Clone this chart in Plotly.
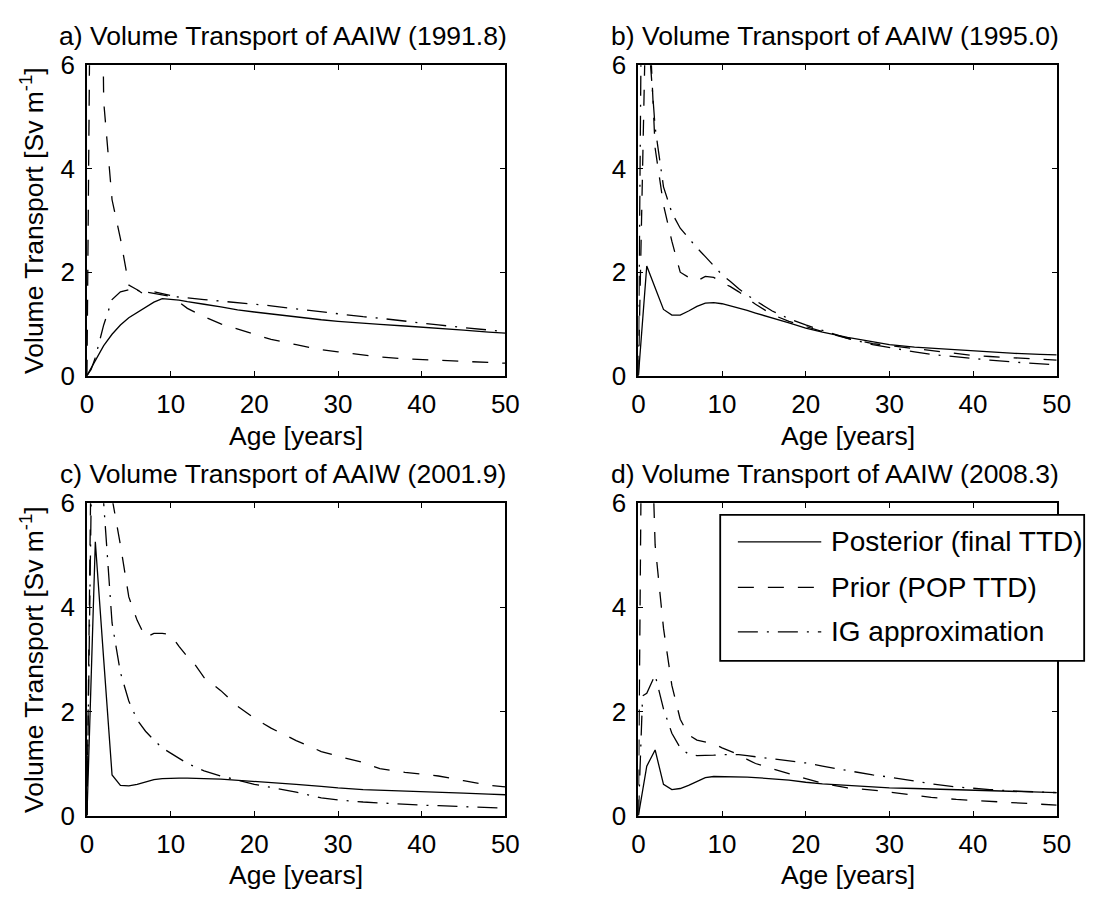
import plotly.graph_objects as go

# ---------------- data ----------------
age = [0, 0.5, 1, 2, 3, 4, 5, 6, 7, 8, 9, 10, 11, 12, 13, 14, 16, 18, 20, 22,
       25, 28, 30, 33, 35, 38, 40, 42, 45, 48, 50]

post_a = [0, 0.15, 0.3, 0.58, 0.8, 0.98, 1.12, 1.22, 1.32, 1.42, 1.49, 1.48, 1.46, 1.43, 1.41, 1.38,
          1.33, 1.27, 1.23, 1.19, 1.14, 1.08, 1.05, 1.01, 0.99, 0.96, 0.94, 0.91, 0.88, 0.84, 0.82]
prior_a = [0, 10, 20, 5.3, 3.4, 2.65, 1.75, 1.66, 1.55, 1.62, 1.58, 1.55, 1.42, 1.3, 1.22, 1.14,
           1.0, 0.9, 0.8, 0.7, 0.6, 0.5, 0.46, 0.4, 0.36, 0.325, 0.31, 0.3, 0.28, 0.255, 0.24]
ig_a = [0, 0.12, 0.35, 0.98, 1.47, 1.62, 1.66, 1.65, 1.62, 1.59, 1.56, 1.53, 1.52, 1.5, 1.49, 1.47,
        1.44, 1.41, 1.38, 1.35, 1.29, 1.23, 1.2, 1.14, 1.11, 1.05, 1.02, 0.98, 0.93, 0.88, 0.85]

post_b = [0, 1.06, 2.12, 1.7, 1.28, 1.17, 1.17, 1.25, 1.34, 1.4, 1.41, 1.39, 1.35, 1.3, 1.26, 1.21,
          1.12, 1.02, 0.92, 0.84, 0.74, 0.65, 0.6, 0.55, 0.53, 0.49, 0.47, 0.45, 0.43, 0.41, 0.40]
prior_b = [0, 4, 8, 4.4, 3.3, 2.6, 2.0, 1.9, 1.83, 1.92, 1.9, 1.8, 1.72, 1.62, 1.5, 1.38,
           1.18, 1.05, 0.95, 0.85, 0.72, 0.62, 0.58, 0.52, 0.49, 0.43, 0.39, 0.37, 0.34, 0.32, 0.30]
ig_b = [0, 10, 7, 4.8, 3.65, 3.15, 2.85, 2.65, 2.47, 2.3, 2.12, 1.95, 1.82, 1.68, 1.56, 1.45,
        1.25, 1.1, 0.98, 0.87, 0.72, 0.6, 0.54, 0.46, 0.41, 0.36, 0.32, 0.3, 0.26, 0.23, 0.21]

post_c = [0, 2.63, 5.26, 3.0, 0.78, 0.58, 0.57, 0.6, 0.65, 0.69, 0.71, 0.72, 0.72, 0.72, 0.72, 0.71,
          0.70, 0.68, 0.66, 0.64, 0.6, 0.56, 0.53, 0.5, 0.49, 0.47, 0.46, 0.45, 0.43, 0.41, 0.40]
prior_c = [0, 7, 14, 8.5, 6.1, 5.2, 4.2, 3.75, 3.42, 3.5, 3.5, 3.48, 3.25, 3.05, 2.88, 2.65,
           2.4, 2.1, 1.87, 1.68, 1.44, 1.23, 1.14, 1.02, 0.9, 0.83, 0.8, 0.76, 0.67, 0.58, 0.55]
ig_c = [0, 6, 12, 6.0, 3.7, 2.75, 2.2, 1.84, 1.62, 1.45, 1.3, 1.2, 1.1, 1.0, 0.93, 0.86,
        0.76, 0.68, 0.6, 0.54, 0.45, 0.34, 0.30, 0.26, 0.24, 0.21, 0.2, 0.19, 0.17, 0.15, 0.14]

post_d = [0, 0.48, 0.95, 1.26, 0.6, 0.5, 0.52, 0.58, 0.66, 0.73, 0.75, 0.75, 0.75, 0.74, 0.74, 0.73,
          0.71, 0.68, 0.64, 0.61, 0.58, 0.55, 0.53, 0.52, 0.51, 0.5, 0.49, 0.48, 0.46, 0.45, 0.44]
prior_d = [0, 10, 10.5, 5.2, 3.6, 2.5, 1.85, 1.55, 1.45, 1.42, 1.38, 1.3, 1.23, 1.17, 1.08, 1.0,
           0.9, 0.8, 0.71, 0.62, 0.53, 0.49, 0.45, 0.38, 0.35, 0.31, 0.29, 0.28, 0.24, 0.21, 0.2]
ig_d = [0, 2.3, 2.35, 2.7, 2.05, 1.58, 1.3, 1.18, 1.15, 1.15, 1.16, 1.17, 1.17, 1.17, 1.15, 1.13,
        1.1, 1.06, 1.01, 0.95, 0.86, 0.78, 0.74, 0.66, 0.61, 0.55, 0.52, 0.5, 0.47, 0.45, 0.44]

titles = ["a) Volume Transport of AAIW (1991.8)", "b) Volume Transport of AAIW (1995.0)",
          "c) Volume Transport of AAIW (2001.9)", "d) Volume Transport of AAIW (2008.3)"]
series_names = ["Posterior (final TTD)", "Prior (POP TTD)", "IG approximation"]
x_ticks = [0, 10, 20, 30, 40, 50]
y_ticks = [0, 2, 4, 6]
x_label = "Age [years]"
y_label = "Volume Transport [Sv m<sup>-1</sup>]"

panels = [(post_a, prior_a, ig_a), (post_b, prior_b, ig_b),
          (post_c, prior_c, ig_c), (post_d, prior_d, ig_d)]

# ---------------- layout helpers ----------------
W, H = 1107, 905
FONT = "Liberation Sans, Arial, Helvetica, sans-serif"
TICK_FS = 26
TEXT_FS = 26.5
LEG_FS = 28
LW = 1.3
dashes = ["solid", "16px,14px", "20px,9px,2px,9px"]

def fx(p):
    return p / W

def fy(p):
    return 1 - p / H

# pixel boxes (left, right, top, bottom)
boxes = [(81.5, 508, 52, 373), (643.6, 1070, 52, 373),
         (81.5, 508, 505, 828), (643.6, 1070, 505, 828)]

fig = go.Figure()
layout = dict(width=W, height=H, margin=dict(l=0, r=0, t=0, b=0),
              paper_bgcolor="white", plot_bgcolor="white", showlegend=False,
              font=dict(family=FONT, size=TEXT_FS, color="black"))
annotations = []
shapes = []

for i, (vals, box) in enumerate(zip(panels, boxes)):
    k = "" if i == 0 else str(i + 1)
    xa, ya = "x" + k, "y" + k
    for s, (v, d) in enumerate(zip(vals, dashes)):
        fig.add_trace(go.Scatter(x=age, y=v, mode="lines", name=series_names[s],
                                 line=dict(color="black", width=LW, dash=d),
                                 xaxis=xa, yaxis=ya, hoverinfo="skip"))
    l, r, t, b = box
    axcommon = dict(showline=True, linecolor="black", linewidth=1.8, mirror="allticks",
                    ticks="inside", ticklen=5, tickwidth=1, tickcolor="black",
                    showgrid=False, zeroline=False,
                    tickfont=dict(family=FONT, size=TICK_FS, color="black"))
    layout["xaxis" + k] = dict(domain=[fx(l), fx(r)], range=[0, 50], tickvals=x_ticks,
                               anchor=ya, ticklabelstandoff=4, **axcommon)
    layout["yaxis" + k] = dict(domain=[fy(b), fy(t)], range=[0, 6], tickvals=y_ticks,
                               anchor=xa, ticklabelstandoff=5, **axcommon)
    cx = (l + r) / 2
    # title
    annotations.append(dict(text=titles[i], x=fx(cx - 13), y=fy(t - 30), xref="paper",
                            yref="paper", xanchor="center", yanchor="middle", showarrow=False,
                            font=dict(family=FONT, size=TEXT_FS, color="black")))
    # x label
    annotations.append(dict(text=x_label, x=fx(cx), y=fy(b + 62), xref="paper", yref="paper",
                            xanchor="center", yanchor="middle", showarrow=False,
                            font=dict(family=FONT, size=TEXT_FS, color="black")))
    if i in (0, 2):
        annotations.append(dict(text=y_label, x=fx(26), y=fy((t + b) / 2), xref="paper",
                                yref="paper", xanchor="center", yanchor="middle",
                                textangle=-90, showarrow=False,
                                font=dict(family=FONT, size=TEXT_FS, color="black")))

# manual legend in panel d
lg_l, lg_r, lg_t, lg_b = 727, 1098, 517, 668
shapes.append(dict(type="rect", xref="paper", yref="paper", x0=fx(lg_l), x1=fx(lg_r),
                   y0=fy(lg_b), y1=fy(lg_t), line=dict(color="black", width=1.8),
                   fillcolor="white", layer="above"))
rows = [545, 592, 638]
for s, yy in enumerate(rows):
    shapes.append(dict(type="line", xref="paper", yref="paper", x0=fx(745), x1=fx(830),
                       y0=fy(yy), y1=fy(yy), line=dict(color="black", width=LW, dash=dashes[s]),
                       layer="above"))
    annotations.append(dict(text=series_names[s], x=fx(838), y=fy(yy), xref="paper",
                            yref="paper", xanchor="left", yanchor="middle", showarrow=False,
                            font=dict(family=FONT, size=LEG_FS, color="black")))

layout["annotations"] = annotations
layout["shapes"] = shapes
fig.update_layout(**layout)
fig.write_html("out.html")
